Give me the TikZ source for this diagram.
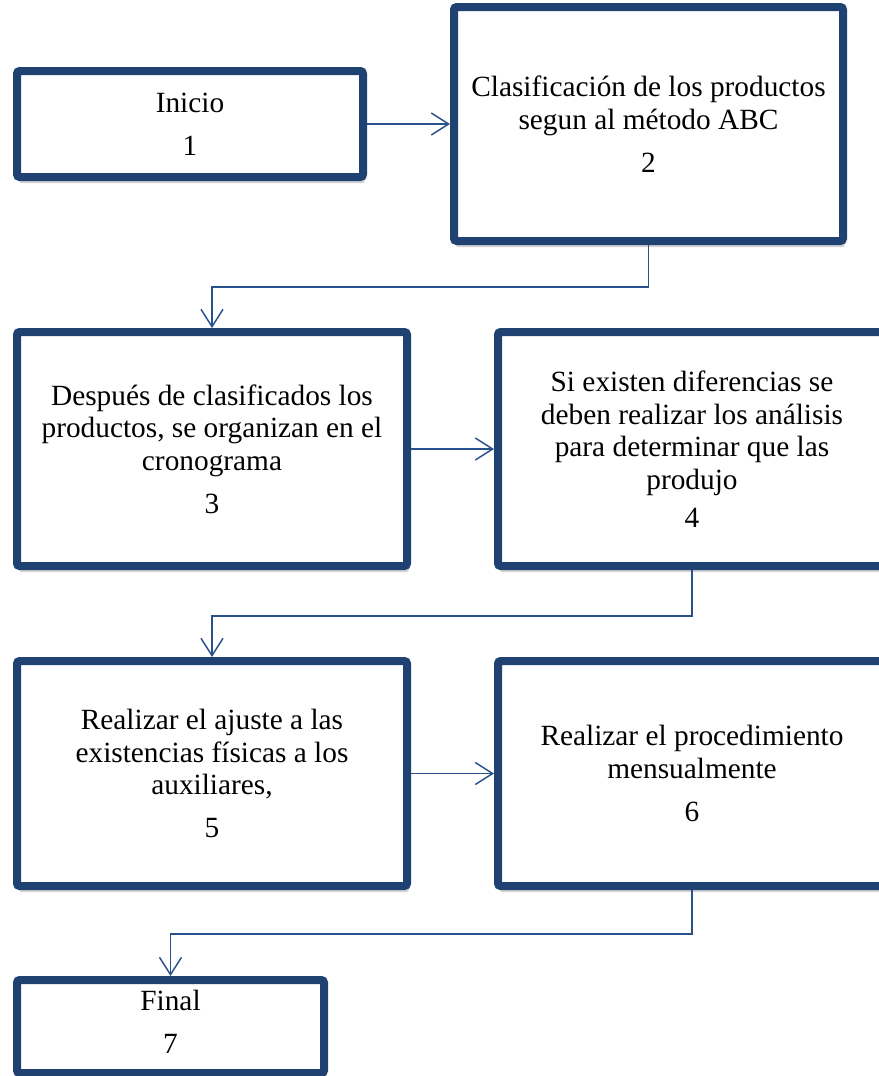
\documentclass[tikz,border=0pt]{standalone}
\usepackage{fontspec}
\setmainfont{Liberation Serif}
\usetikzlibrary{arrows.meta,shadows}
\definecolor{boxblue}{RGB}{31,66,115}
\definecolor{linkblue}{RGB}{41,82,140}
\tikzset{
  stepbox/.style={draw=boxblue, line width=6pt, fill=white, rounded corners=2pt,
    align=center, inner sep=0pt,
    font=\fontsize{22pt}{24.5pt}\selectfont,
    drop shadow={shadow xshift=1.5pt, shadow yshift=-4.6pt, opacity=0.28, fill=black!60}},
  conn/.style={draw=linkblue, line width=1.1pt,
    -{Straight Barb[length=13pt, width=16.5pt, line width=1.1pt]}}
}
\begin{document}
\begin{tikzpicture}[x=0.75pt, y=-0.75pt]
\useasboundingbox (0,0) rectangle (879,1076);
\clip (0,0) rectangle (879,1076);
\fill[white] (0,0) rectangle (879,1076);

\node[stepbox, minimum width=259.5pt, minimum height=79.5pt] (b1) at (190,124)
  {Inicio\\[7.5pt]1};
\node[stepbox, minimum width=291.75pt, minimum height=175.5pt] (b2) at (648.5,124)
  {Clasificación de los productos\\segun al método ABC\\[7.5pt]2};
\node[stepbox, minimum width=292.5pt, minimum height=175.5pt] (b3) at (212,449)
  {Después de clasificados los\\productos, se organizan en el\\cronograma\\[7.5pt]3};
\node[stepbox, minimum width=291pt, minimum height=175.5pt] (b4) at (692,449)
  {Si existen diferencias se\\deben realizar los análisis\\para determinar que las\\produjo\\[4pt]4};
\node[stepbox, minimum width=292.5pt, minimum height=168.75pt] (b5) at (212,773.5)
  {Realizar el ajuste a las\\existencias físicas a los\\auxiliares,\\[7.5pt]5};
\node[stepbox, minimum width=291pt, minimum height=168.75pt] (b6) at (692,773.5)
  {Realizar el procedimiento\\mensualmente\\[7.5pt]6};
\node[stepbox, minimum width=230.25pt, minimum height=69.75pt,
  label={[name=t7, align=center, yshift=3.5pt, font=\fontsize{22pt}{24.5pt}\selectfont]center:Final\\[7.5pt]7}]
  (b7) at (170.5,1026.5) {};

\coordinate (m1) at (0,287);
\coordinate (m2) at (0,616);
\coordinate (m3) at (0,934);

\draw[conn] (b1.east) -- (b2.west);
\draw[conn] (b2.south) -- (b2.south |- m1) -- (b3.north |- m1) -- (b3.north);
\draw[conn] (b3.east) -- (b4.west);
\draw[conn] (b4.south) -- (b4.south |- m2) -- (b5.north |- m2) -- (b5.north);
\draw[conn] (b5.east) -- (b6.west);
\draw[conn] (b6.south) -- (b6.south |- m3) -- (b7.north |- m3) -- (b7.north);
\end{tikzpicture}
\end{document}
